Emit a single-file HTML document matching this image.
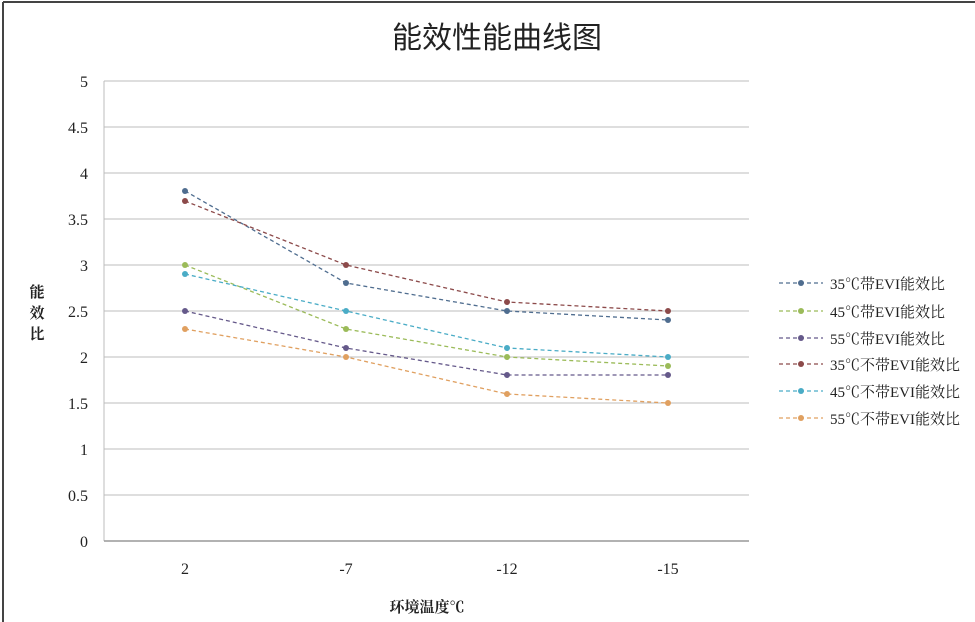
<!DOCTYPE html>
<html><head><meta charset="utf-8"><style>
body{margin:0;background:#fff;}
svg{display:block;}
text{font-family:"Liberation Serif","Noto Serif CJK SC",serif;fill:#222;}
</style></head><body>
<svg width="975" height="622" viewBox="0 0 975 622" xmlns="http://www.w3.org/2000/svg">
<rect x="0" y="0" width="975" height="622" fill="#fff"/>
<line x1="3" y1="2" x2="975" y2="2" stroke="#444" stroke-width="2"/>
<line x1="3" y1="2" x2="3" y2="622" stroke="#444" stroke-width="2"/>
<text x="497" y="48" font-size="30" text-anchor="middle" style="font-family:'Noto Sans CJK SC',sans-serif">能效性能曲线图</text>
<g stroke="#bcbcbc" stroke-width="1">
<line x1="104" y1="81" x2="749" y2="81"/>
<line x1="104" y1="127" x2="749" y2="127"/>
<line x1="104" y1="173" x2="749" y2="173"/>
<line x1="104" y1="219" x2="749" y2="219"/>
<line x1="104" y1="265" x2="749" y2="265"/>
<line x1="104" y1="311" x2="749" y2="311"/>
<line x1="104" y1="357" x2="749" y2="357"/>
<line x1="104" y1="403" x2="749" y2="403"/>
<line x1="104" y1="449" x2="749" y2="449"/>
<line x1="104" y1="495" x2="749" y2="495"/>
<line x1="104" y1="81" x2="104" y2="541"/>
</g>
<line x1="104" y1="541" x2="749" y2="541" stroke="#999" stroke-width="1.5"/>
<g font-size="16" text-anchor="end">
<text x="88" y="87">5</text><text x="88" y="133">4.5</text><text x="88" y="179">4</text>
<text x="88" y="225">3.5</text><text x="88" y="271">3</text><text x="88" y="317">2.5</text>
<text x="88" y="363">2</text><text x="88" y="409">1.5</text><text x="88" y="455">1</text>
<text x="88" y="501">0.5</text><text x="88" y="547">0</text>
</g>
<g font-size="16" text-anchor="middle">
<text x="185" y="574">2</text><text x="346" y="574">-7</text><text x="507" y="574">-12</text><text x="668" y="574">-15</text>
</g>
<g font-size="15" font-weight="bold" text-anchor="middle" style="font-family:'Noto Sans CJK SC',sans-serif">
<text x="37" y="297">能</text><text x="37" y="318">效</text><text x="37" y="339">比</text>
<text x="427" y="612">环境温度℃</text>
</g>
<g fill="none" stroke-dasharray="4,3" stroke-width="1.3">
<polyline stroke="#4f6d8f" points="185,191 346,283 507,311 668,320"/>
<polyline stroke="#9bbb59" points="185,265 346,329 507,357 668,366"/>
<polyline stroke="#65598a" points="185,311 346,348 507,375 668,375"/>
<polyline stroke="#8c4a4a" points="185,201 346,265 507,302 668,311"/>
<polyline stroke="#4aacc6" points="185,274 346,311 507,348 668,357"/>
<polyline stroke="#e0a060" points="185,329 346,357 507,394 668,403"/>
</g>
<g>
<g fill="#4f6d8f"><circle cx="185" cy="191" r="3"/><circle cx="346" cy="283" r="3"/><circle cx="507" cy="311" r="3"/><circle cx="668" cy="320" r="3"/></g>
<g fill="#9bbb59"><circle cx="185" cy="265" r="3"/><circle cx="346" cy="329" r="3"/><circle cx="507" cy="357" r="3"/><circle cx="668" cy="366" r="3"/></g>
<g fill="#65598a"><circle cx="185" cy="311" r="3"/><circle cx="346" cy="348" r="3"/><circle cx="507" cy="375" r="3"/><circle cx="668" cy="375" r="3"/></g>
<g fill="#8c4a4a"><circle cx="185" cy="201" r="3"/><circle cx="346" cy="265" r="3"/><circle cx="507" cy="302" r="3"/><circle cx="668" cy="311" r="3"/></g>
<g fill="#4aacc6"><circle cx="185" cy="274" r="3"/><circle cx="346" cy="311" r="3"/><circle cx="507" cy="348" r="3"/><circle cx="668" cy="357" r="3"/></g>
<g fill="#e0a060"><circle cx="185" cy="329" r="3"/><circle cx="346" cy="357" r="3"/><circle cx="507" cy="394" r="3"/><circle cx="668" cy="403" r="3"/></g>
</g>
<g stroke-dasharray="4,3" stroke-width="1.3">
<line x1="779" y1="283" x2="823" y2="283" stroke="#4f6d8f"/>
<line x1="779" y1="311" x2="823" y2="311" stroke="#9bbb59"/>
<line x1="779" y1="338" x2="823" y2="338" stroke="#65598a"/>
<line x1="779" y1="364" x2="823" y2="364" stroke="#8c4a4a"/>
<line x1="779" y1="391" x2="823" y2="391" stroke="#4aacc6"/>
<line x1="779" y1="418" x2="823" y2="418" stroke="#e0a060"/>
</g>
<circle cx="801" cy="283" r="3" fill="#4f6d8f"/><circle cx="801" cy="311" r="3" fill="#9bbb59"/>
<circle cx="801" cy="338" r="3" fill="#65598a"/><circle cx="801" cy="364" r="3" fill="#8c4a4a"/>
<circle cx="801" cy="391" r="3" fill="#4aacc6"/><circle cx="801" cy="418" r="3" fill="#e0a060"/>
<g font-size="15">
<text x="830" y="289">35℃带EVI能效比</text>
<text x="830" y="317">45℃带EVI能效比</text>
<text x="830" y="344">55℃带EVI能效比</text>
<text x="830" y="370">35℃不带EVI能效比</text>
<text x="830" y="397">45℃不带EVI能效比</text>
<text x="830" y="424">55℃不带EVI能效比</text>
</g>
</svg>
</body></html>
